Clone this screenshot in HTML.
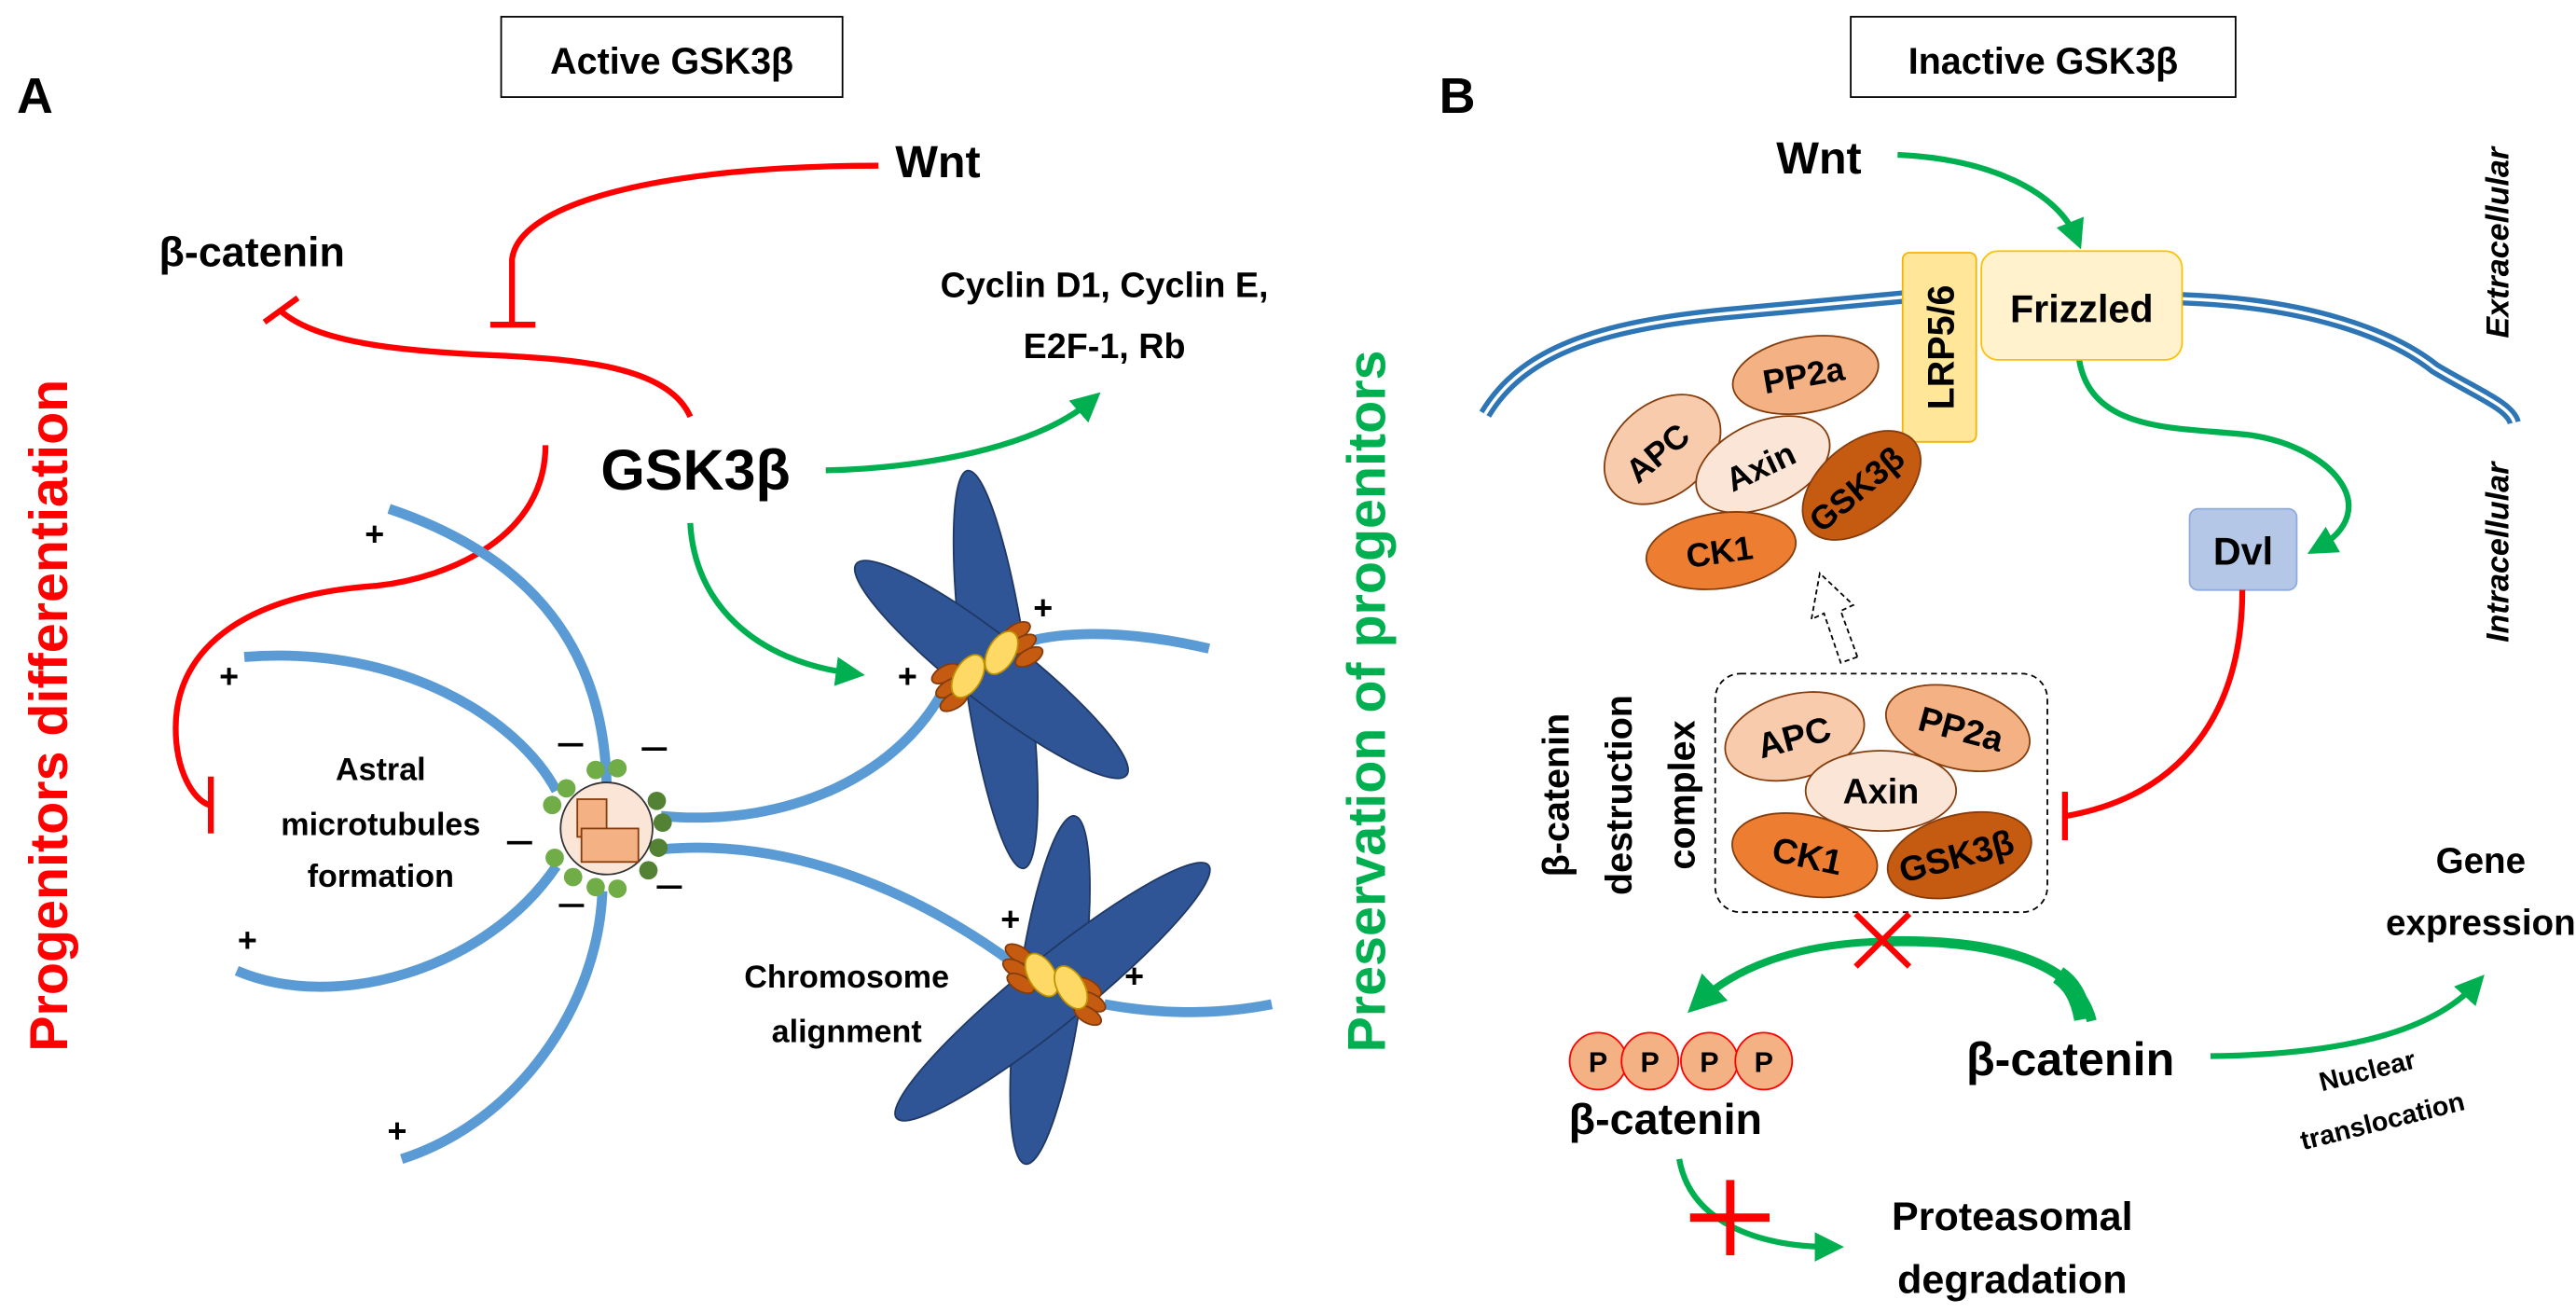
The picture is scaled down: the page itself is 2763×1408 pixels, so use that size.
<!DOCTYPE html>
<html><head><meta charset="utf-8"><style>
html,body{margin:0;padding:0;background:#fff;}
svg{display:block;}
text{font-family:"Liberation Sans",sans-serif;font-weight:bold;fill:#000;}
</style></head><body>
<svg width="2763" height="1408" viewBox="0 0 2763 1408" xmlns="http://www.w3.org/2000/svg">
<defs>
<marker id="ga" markerWidth="6" markerHeight="6" refX="3" refY="3" orient="auto" markerUnits="strokeWidth"><path d="M0,0.5 L5,3 L0,5.5 z" fill="#00b050"/></marker>
</defs>

<!-- PANEL A -->
<g transform="scale(0.8974)">
<text x="20" y="135" font-size="60">A</text>
<rect x="599" y="20" width="408" height="96" fill="#fff" stroke="#000" stroke-width="2"/>
<text x="803" y="88" font-size="44" text-anchor="middle">Active GSK3β</text>
<text x="1070" y="212" font-size="54">Wnt</text>
<text x="190" y="318" font-size="50">β-catenin</text>
<text x="1320" y="355" font-size="42" text-anchor="middle">Cyclin D1, Cyclin E,</text>
<text x="1320" y="428" font-size="42" text-anchor="middle">E2F-1, Rb</text>
<text x="718" y="585" font-size="68">GSK3β</text>

<g fill="none" stroke="#ff0000" stroke-width="7">
<path d="M1050,198 C800,198 620,240 612,310 L612,388"/>
<path d="M586,388 L640,388"/>
<path d="M825,498 C800,440 700,430 600,425 C480,420 380,410 336,372"/>
<path d="M316,385 L356,356"/>
<path d="M652,532 C652,640 540,690 450,700 C300,710 210,770 210,870 C210,920 230,955 250,962"/>
<path d="M252,928 L252,996"/>
</g>
<g fill="none" stroke="#00b050" stroke-width="7">
<path d="M987,562 C1100,560 1240,535 1305,478" marker-end="url(#ga)"/>
<path d="M825,625 C830,720 900,790 1020,805" marker-end="url(#ga)"/>
</g>

<g fill="none" stroke="#5b9bd5" stroke-width="12">
<path d="M465,608 C620,660 720,760 725,935"/>
<path d="M292,785 C480,770 620,860 665,945"/>
<path d="M283,1160 C400,1210 580,1160 665,1035"/>
<path d="M480,1385 C620,1340 715,1200 720,1065"/>
<path d="M790,975 C950,990 1080,920 1130,820"/>
<path d="M790,1015 C950,1000 1100,1070 1210,1150"/>
<path d="M1235,765 C1300,750 1380,760 1445,775"/>
<path d="M1320,1200 C1400,1215 1470,1210 1520,1200"/>
</g>
<g>
<circle cx="712" cy="920" r="11" fill="#70ad47"/><circle cx="738" cy="918" r="11" fill="#70ad47"/>
<circle cx="677" cy="942" r="11" fill="#70ad47"/><circle cx="660" cy="962" r="11" fill="#70ad47"/>
<circle cx="785" cy="957" r="11" fill="#548235"/><circle cx="792" cy="983" r="11" fill="#548235"/>
<circle cx="787" cy="1013" r="11" fill="#548235"/><circle cx="775" cy="1040" r="11" fill="#548235"/>
<circle cx="663" cy="1025" r="11" fill="#70ad47"/><circle cx="685" cy="1048" r="11" fill="#70ad47"/>
<circle cx="712" cy="1060" r="11" fill="#70ad47"/><circle cx="738" cy="1062" r="11" fill="#70ad47"/>
<circle cx="725" cy="990" r="55" fill="#fbe5d6" stroke="#333" stroke-width="2"/>
<rect x="690" y="955" width="35" height="45" fill="#f4b183" stroke="#843c0c" stroke-width="2"/>
<rect x="695" y="990" width="68" height="40" fill="#f4b183" stroke="#843c0c" stroke-width="2"/>
</g>
<g font-size="40" font-weight="normal">
<text x="436" y="652">+</text><text x="262" y="822">+</text><text x="284" y="1137">+</text>
<text x="463" y="1365">+</text><text x="1073" y="822">+</text><text x="1235" y="740">+</text>
<text x="1196" y="1112">+</text><text x="1344" y="1180">+</text>
</g>
<g stroke="#000" stroke-width="4">
<path d="M667,890 L697,890"/><path d="M767,895 L797,895"/><path d="M606,1007 L636,1007"/>
<path d="M668,1082 L698,1082"/><path d="M785,1060 L815,1060"/>
</g>
<g font-size="38" text-anchor="middle">
<text x="455" y="932">Astral</text><text x="455" y="998">microtubules</text><text x="455" y="1060">formation</text>
<text x="1012" y="1180">Chromosome</text><text x="1012" y="1245">alignment</text>
</g>
<g fill="#2f5597" stroke="#1f3864" stroke-width="2">
<ellipse cx="1190" cy="800" rx="38" ry="240" transform="rotate(-8 1190 800)"/>
<ellipse cx="1185" cy="800" rx="40" ry="205" transform="rotate(-52 1185 800)"/>
<ellipse cx="1255" cy="1183" rx="38" ry="210" transform="rotate(8 1255 1183)"/>
<ellipse cx="1258" cy="1185" rx="40" ry="240" transform="rotate(51 1258 1185)"/>
</g>
<g fill="#c55a11" stroke="#843c0c" stroke-width="2">
<ellipse cx="1130" cy="805" rx="18" ry="9" transform="rotate(-30 1130 805)"/><ellipse cx="1135" cy="822" rx="18" ry="9" transform="rotate(-30 1135 822)"/><ellipse cx="1140" cy="838" rx="18" ry="9" transform="rotate(-30 1140 838)"/>
<ellipse cx="1215" cy="755" rx="18" ry="9" transform="rotate(-30 1215 755)"/><ellipse cx="1222" cy="770" rx="18" ry="9" transform="rotate(-30 1222 770)"/><ellipse cx="1230" cy="785" rx="18" ry="9" transform="rotate(-30 1230 785)"/>
<ellipse cx="1218" cy="1140" rx="18" ry="9" transform="rotate(30 1218 1140)"/><ellipse cx="1215" cy="1158" rx="18" ry="9" transform="rotate(30 1215 1158)"/><ellipse cx="1220" cy="1175" rx="18" ry="9" transform="rotate(30 1220 1175)"/>
<ellipse cx="1300" cy="1180" rx="18" ry="9" transform="rotate(30 1300 1180)"/><ellipse cx="1305" cy="1197" rx="18" ry="9" transform="rotate(30 1305 1197)"/><ellipse cx="1300" cy="1213" rx="18" ry="9" transform="rotate(30 1300 1213)"/>
</g>
<g fill="#ffd966" stroke="#bf9000" stroke-width="2">
<ellipse cx="1157" cy="808" rx="16" ry="28" transform="rotate(30 1157 808)"/>
<ellipse cx="1197" cy="780" rx="16" ry="28" transform="rotate(30 1197 780)"/>
<ellipse cx="1245" cy="1165" rx="16" ry="28" transform="rotate(-30 1245 1165)"/>
<ellipse cx="1280" cy="1180" rx="16" ry="28" transform="rotate(-30 1280 1180)"/>
</g>
<text transform="translate(80,855) rotate(-90)" font-size="64" text-anchor="middle" style="fill:#ff0000">Progenitors differentiation</text>
</g>

<!-- PANEL B -->
<g transform="translate(1400,0) scale(0.8974)">
<text x="160" y="135" font-size="60">B</text>
<rect x="652" y="20" width="460" height="96" fill="#fff" stroke="#000" stroke-width="2"/>
<text x="882" y="88" font-size="44" text-anchor="middle">Inactive GSK3β</text>
<text transform="translate(95,838) rotate(-90)" font-size="64" text-anchor="middle" style="fill:#00b050">Preservation of progenitors</text>
<text x="563" y="207" font-size="54">Wnt</text>
<g fill="none" stroke="#00b050" stroke-width="7">
<path d="M708,185 C820,190 900,230 922,285" marker-end="url(#ga)"/>
<path d="M925,430 C940,520 1050,510 1130,520 C1230,535 1290,610 1210,655" marker-end="url(#ga)"/>
<path d="M1082,1262 C1250,1260 1350,1230 1400,1175" marker-end="url(#ga)"/>
<path d="M447,1385 C460,1460 540,1490 630,1490" marker-end="url(#ga)"/>
<path d="M690,1125 C580,1128 510,1160 470,1198" marker-end="url(#ga)" stroke-width="9"/>
<path d="M940,1220 C920,1140 800,1122 690,1125" stroke-width="12"/>
<path d="M930,1218 C925,1190 915,1175 900,1165" stroke-width="22"/>
</g>
<g fill="none">
<path d="M215,495 C260,420 350,390 500,375 L715,355" stroke="#2e75b6" stroke-width="16"/>
<path d="M215,495 C260,420 350,390 500,375 L715,355" stroke="#fff" stroke-width="4"/>
<path d="M1048,357 C1200,362 1300,400 1350,440 C1400,470 1440,485 1445,505" stroke="#2e75b6" stroke-width="16"/>
<path d="M1048,357 C1200,362 1300,400 1350,440 C1400,470 1440,485 1445,505" stroke="#fff" stroke-width="4"/>
</g>
<rect x="714" y="302" width="88" height="226" rx="8" fill="#ffe699" stroke="#f4b400" stroke-width="2"/>
<text transform="translate(775,415) rotate(-90)" font-size="44" text-anchor="middle">LRP5/6</text>
<rect x="808" y="300" width="240" height="130" rx="20" fill="#fff2cc" stroke="#ffc000" stroke-width="2"/>
<text x="928" y="385" font-size="46" text-anchor="middle">Frizzled</text>
<rect x="1057" y="608" width="128" height="97" rx="10" fill="#b4c7e7" stroke="#8faadc" stroke-width="2"/>
<text x="1121" y="675" font-size="46" text-anchor="middle">Dvl</text>
<g fill="none" stroke="#ff0000" stroke-width="7">
<path d="M1120,705 C1120,850 1050,950 910,975"/>
<path d="M908,946 L908,1004"/>
</g>
<g font-size="38" font-style="italic">
<text transform="translate(1438,290) rotate(-90)" text-anchor="middle">Extracellular</text>
<text transform="translate(1438,660) rotate(-90)" text-anchor="middle">Intracellular</text>
</g>
<g stroke="#843c0c" stroke-width="2">
<ellipse cx="598" cy="448" rx="88" ry="45" transform="rotate(-10 598 448)" fill="#f4b183"/>
<ellipse cx="427" cy="537" rx="78" ry="55" transform="rotate(-40 427 537)" fill="#f8cbad"/>
<ellipse cx="547" cy="555" rx="85" ry="50" transform="rotate(-25 547 555)" fill="#fbe5d6"/>
<ellipse cx="665" cy="580" rx="82" ry="50" transform="rotate(-40 665 580)" fill="#c55a11"/>
<ellipse cx="497" cy="658" rx="90" ry="45" transform="rotate(-8 497 658)" fill="#ed7d31"/>
</g>
<g font-size="40" text-anchor="middle">
<text transform="translate(598,462) rotate(-10)">PP2a</text>
<text transform="translate(430,552) rotate(-40)">APC</text>
<text transform="translate(550,570) rotate(-25)">Axin</text>
<text transform="translate(668,595) rotate(-40)">GSK3β</text>
<text transform="translate(497,673) rotate(-8)">CK1</text>
</g>
<path d="M660,785 L640,730 L655,723 L615,685 L605,740 L620,733 L640,792 z" fill="#fff" stroke="#000" stroke-width="2" stroke-dasharray="6,4"/>
<rect x="490" y="805" width="397" height="285" rx="30" fill="none" stroke="#000" stroke-width="2" stroke-dasharray="7,5"/>
<g stroke="#843c0c" stroke-width="2">
<ellipse cx="585" cy="880" rx="85" ry="50" transform="rotate(-15 585 880)" fill="#f8cbad"/>
<ellipse cx="780" cy="870" rx="88" ry="48" transform="rotate(15 780 870)" fill="#f4b183"/>
<ellipse cx="688" cy="945" rx="90" ry="48" fill="#fbe5d6"/>
<ellipse cx="597" cy="1022" rx="88" ry="48" transform="rotate(12 597 1022)" fill="#ed7d31"/>
<ellipse cx="782" cy="1022" rx="88" ry="48" transform="rotate(-15 782 1022)" fill="#c55a11"/>
</g>
<g font-size="42" text-anchor="middle">
<text transform="translate(588,895) rotate(-15)">APC</text>
<text transform="translate(780,885) rotate(15)">PP2a</text>
<text x="688" y="960">Axin</text>
<text transform="translate(597,1037) rotate(12)">CK1</text>
<text transform="translate(782,1037) rotate(-15)">GSK3β</text>
</g>
<g font-size="44" text-anchor="middle">
<text transform="translate(315,950) rotate(-90)">β-catenin</text>
<text transform="translate(390,950) rotate(-90)">destruction</text>
<text transform="translate(465,950) rotate(-90)">complex</text>
</g>
<g stroke="#ff0000" stroke-width="7">
<path d="M658,1092 L722,1155"/><path d="M722,1092 L658,1155"/>
</g>
<g fill="#f4b183" stroke="#ff0000" stroke-width="2">
<circle cx="350" cy="1268" r="34"/><circle cx="412" cy="1268" r="34"/><circle cx="483" cy="1268" r="34"/><circle cx="548" cy="1268" r="34"/>
</g>
<g font-size="34" text-anchor="middle">
<text x="350" y="1281">P</text><text x="412" y="1281">P</text><text x="483" y="1281">P</text><text x="548" y="1281">P</text>
</g>
<text x="315" y="1355" font-size="52">β-catenin</text>
<text x="790" y="1285" font-size="56">β-catenin</text>
<g font-size="32" text-anchor="middle">
<text transform="translate(1272,1290) rotate(-14)">Nuclear</text>
<text transform="translate(1290,1350) rotate(-14)">translocation</text>
</g>
<g font-size="43" text-anchor="middle">
<text x="1405" y="1043">Gene</text><text x="1405" y="1117">expression</text>
</g>
<g stroke="#ff0000" stroke-width="10">
<path d="M508,1410 L508,1500"/><path d="M460,1455 L555,1455"/>
</g>
<g font-size="48" text-anchor="middle">
<text x="845" y="1470">Proteasomal</text><text x="845" y="1545">degradation</text>
</g>
</g>
</svg>
</body></html>
